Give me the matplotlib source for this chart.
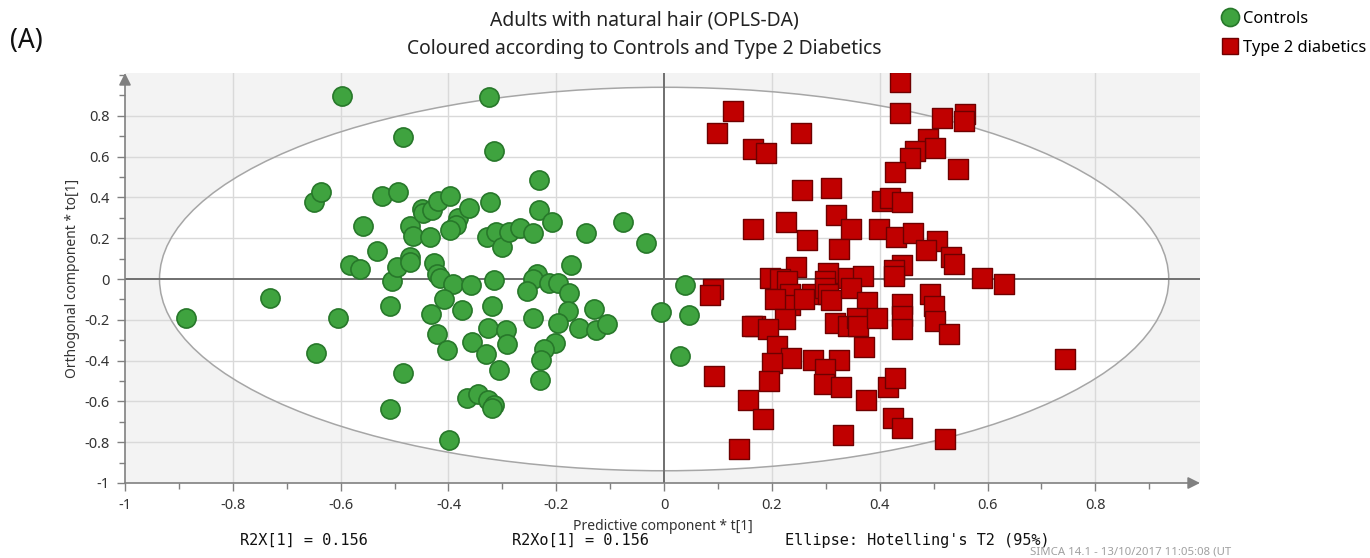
import numpy as np
import matplotlib
matplotlib.use("Agg")
import matplotlib.pyplot as plt
from matplotlib.patches import Ellipse
from matplotlib.lines import Line2D
from matplotlib.ticker import MultipleLocator

plt.rcParams['font.family'] = ['Noto Sans', 'DejaVu Sans']

# OPLS-DA scores, controls
controls_t = [-0.886, -0.731, -0.646, -0.649, -0.637, -0.597, -0.604, -0.583, -0.565, -0.559,
              -0.533, -0.523, -0.508, -0.509, -0.493, -0.485, -0.485, -0.504, -0.495, -0.472,
              -0.465, -0.471, -0.472, -0.450, -0.447, -0.430, -0.419, -0.397, -0.434, -0.426,
              -0.422, -0.416, -0.391, -0.358, -0.409, -0.432, -0.374, -0.422, -0.402, -0.399,
              -0.383, -0.386, -0.397, -0.361, -0.325, -0.315, -0.323, -0.329, -0.312, -0.301,
              -0.287, -0.268, -0.244, -0.232, -0.232, -0.208, -0.315, -0.320, -0.356, -0.326,
              -0.293, -0.291, -0.330, -0.307, -0.365, -0.345, -0.326, -0.315, -0.320, -0.235,
              -0.244, -0.255, -0.213, -0.196, -0.176, -0.173, -0.244, -0.179, -0.196, -0.158,
              -0.130, -0.127, -0.106, -0.202, -0.223, -0.229, -0.231, -0.145, -0.077, -0.034,
              -0.006, 0.039, 0.047, 0.030]
controls_to = [-0.190, -0.092, -0.364, 0.376, 0.428, 0.897, -0.190, 0.069, 0.047, 0.261,
               0.136, 0.407, -0.134, -0.638, 0.428, 0.696, -0.459, -0.010, 0.058, 0.260,
               0.211, 0.108, 0.083, 0.345, 0.325, 0.337, 0.382, 0.407, 0.206, 0.077,
               0.023, 0.003, -0.023, -0.029, -0.100, -0.170, -0.153, -0.271, -0.348, -0.791,
               0.301, 0.265, 0.239, 0.350, 0.892, 0.627, 0.379, 0.207, 0.230, 0.157,
               0.232, 0.248, 0.225, 0.484, 0.337, 0.281, -0.004, -0.134, -0.307, -0.239,
               -0.252, -0.320, -0.369, -0.446, -0.582, -0.562, -0.595, -0.618, -0.634, 0.023,
               -0.002, -0.059, -0.018, -0.018, -0.067, 0.067, -0.190, -0.158, -0.217, -0.239,
               -0.149, -0.249, -0.222, -0.312, -0.345, -0.399, -0.494, 0.227, 0.281, 0.178,
               -0.163, -0.029, -0.178, -0.377]

# OPLS-DA scores, type 2 diabetics
t2d_t = [0.438, 0.438, 0.127, 0.098, 0.254, 0.164, 0.189, 0.516, 0.559, 0.557,
         0.490, 0.503, 0.466, 0.456, 0.429, 0.546, 0.255, 0.309, 0.405, 0.419,
         0.442, 0.319, 0.347, 0.226, 0.164, 0.398, 0.430, 0.461, 0.265, 0.324,
         0.506, 0.485, 0.532, 0.537, 0.245, 0.442, 0.427, 0.427, 0.197, 0.215,
         0.228, 0.304, 0.299, 0.341, 0.368, 0.589, 0.631, 0.090, 0.085, 0.233,
         0.233, 0.205, 0.274, 0.259, 0.299, 0.304, 0.309, 0.347, 0.376, 0.441,
         0.494, 0.501, 0.224, 0.169, 0.163, 0.192, 0.317, 0.342, 0.357, 0.360,
         0.394, 0.442, 0.442, 0.503, 0.529, 0.210, 0.236, 0.200, 0.370, 0.277,
         0.324, 0.299, 0.296, 0.328, 0.093, 0.195, 0.156, 0.184, 0.138, 0.331,
         0.374, 0.415, 0.429, 0.424, 0.442, 0.521, 0.744]
t2d_to = [0.967, 0.812, 0.824, 0.717, 0.717, 0.636, 0.619, 0.788, 0.807, 0.775,
          0.685, 0.641, 0.627, 0.592, 0.525, 0.538, 0.434, 0.448, 0.382, 0.399,
          0.379, 0.312, 0.247, 0.281, 0.247, 0.247, 0.206, 0.224, 0.190, 0.149,
          0.186, 0.142, 0.108, 0.072, 0.059, 0.069, 0.042, 0.015, 0.003, -0.002,
          -0.010, 0.028, -0.010, 0.006, 0.015, 0.003, -0.023, -0.050, -0.080, -0.075,
          -0.127, -0.100, -0.072, -0.100, -0.042, -0.075, -0.104, -0.042, -0.111, -0.124,
          -0.075, -0.132, -0.198, -0.229, -0.230, -0.247, -0.214, -0.230, -0.190, -0.230,
          -0.190, -0.181, -0.247, -0.206, -0.271, -0.328, -0.386, -0.410, -0.333, -0.397,
          -0.397, -0.443, -0.516, -0.529, -0.475, -0.500, -0.593, -0.688, -0.835, -0.766,
          -0.593, -0.529, -0.487, -0.680, -0.728, -0.786, -0.394]

# Hotelling's T2 (95%) ellipse semi-axes
t2_a = 0.936
t2_b = 0.940

r2x = 0.156
r2xo = 0.156

green = '#3fa33f'
green_edge = '#27782a'
red = '#c00000'
red_edge = '#6e0000'
axis_grey = '#808080'

fig = plt.figure(figsize=(13.7, 5.58), dpi=100)
ax = fig.add_axes([125/1370, 1 - 483/558, 1075/1370, 410/558])
ax.set_facecolor('#f3f3f3')
ax.set_xlim(-1, 0.994)
ax.set_ylim(-1, 1.01)

# white inside the ellipse, grid on top, then the ellipse outline
ax.add_patch(Ellipse((0, 0), 2*t2_a, 2*t2_b, facecolor='white', edgecolor='none', zorder=0.5))
for v in np.arange(-0.8, 0.81, 0.2):
    if abs(v) < 1e-9:
        continue
    ax.axvline(v, color='#d9d9d9', lw=1, zorder=1)
    ax.axhline(v, color='#d9d9d9', lw=1, zorder=1)
ax.add_patch(Ellipse((0, 0), 2*t2_a, 2*t2_b, facecolor='none', edgecolor='#a6a6a6', lw=1.1, zorder=1.5))
ax.axvline(0, color='#6f6f6f', lw=1.4, zorder=1.6)
ax.axhline(0, color='#6f6f6f', lw=1.4, zorder=1.6)

ax.scatter(controls_t, controls_to, s=190, marker='o', facecolor=green, edgecolor=green_edge,
           linewidth=1.2, zorder=3)
ax.scatter(t2d_t, t2d_to, s=210, marker='s', facecolor=red, edgecolor=red_edge,
           linewidth=1.0, zorder=3)

# axes with arrow heads
for s in ax.spines.values():
    s.set_visible(False)
ax.annotate('', xy=(1.0, 0), xycoords='axes fraction', xytext=(0, 0),
            arrowprops=dict(arrowstyle='-|>', color=axis_grey, lw=1.2, mutation_scale=18,
                            shrinkA=0, shrinkB=0), annotation_clip=False)
ax.annotate('', xy=(0, 1.0), xycoords='axes fraction', xytext=(0, 0),
            arrowprops=dict(arrowstyle='-|>', color=axis_grey, lw=1.2, mutation_scale=18,
                            shrinkA=0, shrinkB=0), annotation_clip=False)

ax.xaxis.set_minor_locator(MultipleLocator(0.1))
ax.yaxis.set_minor_locator(MultipleLocator(0.1))
ax.set_xticks(np.round(np.arange(-1, 0.81, 0.2), 1))
ax.set_yticks(np.round(np.arange(-1, 0.81, 0.2), 1))
ax.xaxis.set_major_formatter(lambda v, p: '0' if abs(v) < 1e-9 else f'{v:g}')
ax.yaxis.set_major_formatter(lambda v, p: '0' if abs(v) < 1e-9 else f'{v:g}')
ax.tick_params(which='major', length=6, width=1, color=axis_grey, labelsize=10.5,
               labelcolor='#333333', pad=5)
ax.tick_params(which='minor', length=4, width=1, color=axis_grey)

ax.set_xlabel('Predictive component * t[1]', fontsize=10, color='#333333', labelpad=4)
ax.set_ylabel('Orthogonal component * to[1]', fontsize=10, color='#333333', labelpad=3)

fig.text(0.47, 0.963, 'Adults with natural hair (OPLS-DA)', ha='center', va='center',
         fontsize=13.9, color='#222222')
fig.text(0.47, 0.912, 'Coloured according to Controls and Type 2 Diabetics', ha='center',
         va='center', fontsize=13.9, color='#222222')
fig.text(0.007, 0.926, '(A)', ha='left', va='center', fontsize=19, color='#111111')

handles = [Line2D([], [], ls='none', marker='o', ms=13, mfc=green, mec=green_edge, mew=1.2),
           Line2D([], [], ls='none', marker='s', ms=12, mfc=red, mec=red_edge, mew=1.0)]
fig.legend(handles, ['Controls', 'Type 2 diabetics'], loc='upper left',
           bbox_to_anchor=(1214/1370, 1 - 4/558), frameon=False, fontsize=11.8,
           handletextpad=0.15, labelspacing=0.8, handlelength=1.2, borderaxespad=0)

mono = 'DejaVu Sans Mono'
fig.text(240/1370, 1 - 540/558, f'R2X[1] = {r2x:.3f}', family=mono, fontsize=11,
         va='center', color='#111111')
fig.text(512/1370, 1 - 540/558, f'R2Xo[1] = {r2xo:.3f}', family=mono, fontsize=11,
         va='center', color='#111111')
fig.text(785/1370, 1 - 540/558, "Ellipse: Hotelling's T2 (95%)", family=mono, fontsize=11,
         va='center', color='#111111')
fig.text(1030/1370, 1 - 552/558, 'SIMCA 14.1 - 13/10/2017 11:05:08 (UT', fontsize=8.2,
         va='center', color='#a0a0a0')

fig.savefig('out.png', dpi=100)
